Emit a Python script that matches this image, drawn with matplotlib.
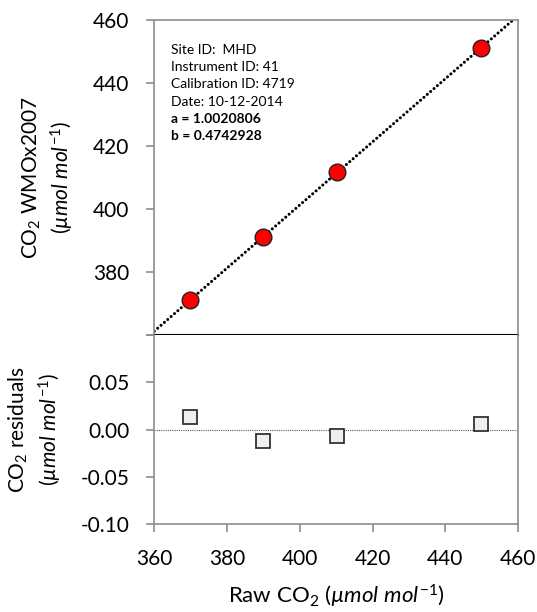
import matplotlib
matplotlib.use("Agg")
import matplotlib.pyplot as plt
import numpy as np

plt.rcParams['font.family'] = ['Lato', 'DejaVu Sans']
plt.rcParams['mathtext.fontset'] = 'custom'
plt.rcParams['mathtext.rm'] = 'Lato'
plt.rcParams['mathtext.it'] = 'Lato:italic'

# calibration data
raw_co2 = [369.8, 389.8, 410.3, 449.7]
wmo_co2 = [371.06, 391.07, 411.62, 451.12]
residuals = [0.0133, -0.0123, -0.0074, 0.0063]
fit_a = 1.0020806
fit_b = 0.4742928

info_lines = ["Site ID:  MHD", "Instrument ID: 41", "Calibration ID: 4719",
              "Date: 10-12-2014", "a = 1.0020806", "b = 0.4742928"]
info_bold = [False, False, False, False, True, True]

x_ticks = [360, 380, 400, 420, 440, 460]
top_ticks = [360, 380, 400, 420, 440, 460]
top_labels = ["", "380", "400", "420", "440", "460"]
res_ticks = [-0.10, -0.05, 0.00, 0.05, 0.10]
res_labels = ["-0.10", "-0.05", "0.00", "0.05", ""]

gray = "#8c8c8c"

fig = plt.figure(figsize=(5.37, 6.12), dpi=100)
ax1 = fig.add_axes([0.2873, 0.4526, 0.6778, 0.5147])
ax2 = fig.add_axes([0.2873, 0.1438, 0.6778, 0.3088])

# top panel: fit line and points
line_x = np.array([360, 460])
ax1.plot(line_x, fit_a * line_x + fit_b, color="black", linestyle=(0, (0.01, 1.45)),
         linewidth=2.2, dash_capstyle="round", zorder=2)
ax1.plot(raw_co2, wmo_co2, "o", markersize=12, markerfacecolor="#ff0000",
         markeredgecolor="#222222", markeredgewidth=1, zorder=3)
ax1.set_xlim(360, 460)
ax1.set_ylim(360, 460)
ax1.set_yticks(top_ticks)
ax1.set_yticklabels(top_labels)
ax1.set_xticks([])
ax1.set_ylabel("CO$_2$ WMOx2007\n$\\mathit{(µmol\\ mol^{-1})}$", fontsize=15,
               labelpad=12, linespacing=1.3)

for i, (txt, bold) in enumerate(zip(info_lines, info_bold)):
    ax1.text(0.047, 0.905 - i * 0.0546, txt, transform=ax1.transAxes,
             fontsize=10, va="center", ha="left",
             fontweight="bold" if bold else "normal")

# bottom panel: residuals
ax2.axhline(0, color="#555555", linestyle=(0, (1, 1)), linewidth=0.8, zorder=1)
ax2.plot(raw_co2, residuals, "s", markersize=9.5, markerfacecolor="#efefef",
         markeredgecolor="#333333", markeredgewidth=1.3, zorder=3)
ax2.set_xlim(360, 460)
ax2.set_ylim(-0.10, 0.10)
ax2.set_xticks(x_ticks)
ax2.set_yticks(res_ticks)
ax2.set_yticklabels(res_labels)
ax2.set_ylabel("CO$_2$ residuals\n$\\mathit{(µmol\\ mol^{-1})}$", fontsize=15,
               labelpad=12, linespacing=1.3)
ax2.set_xlabel("Raw CO$_2$ $\\mathit{(µmol\\ mol^{-1})}$", fontsize=16, labelpad=10)

for ax in (ax1, ax2):
    for s in ax.spines.values():
        s.set_color(gray)
        s.set_linewidth(1.2)
    ax.tick_params(direction="out", length=6, width=1.2, color=gray,
                   labelsize=15)
    ax.tick_params(axis="y", pad=12)
ax2.tick_params(axis="x", pad=12)

ax1.spines["bottom"].set_color("black")
ax1.spines["bottom"].set_linewidth(1.5)
ax2.spines["top"].set_visible(False)

fig.savefig("out.png", dpi=100)
